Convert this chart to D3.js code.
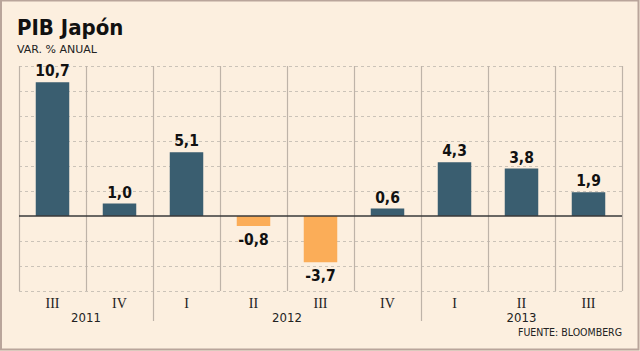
<!DOCTYPE html>
<html><head><meta charset="utf-8">
<script src="https://cdn.jsdelivr.net/npm/d3@7"></script>
<style>
html,body{margin:0;padding:0;background:#fcefdf;}
svg{display:block;}
</style></head>
<body>
<script>
const quarters = ["III","IV","I","II","III","IV","I","II","III"];
const values = [10.7, 1.0, 5.1, -0.8, -3.7, 0.6, 4.3, 3.8, 1.9];
const valueLabels = ["10,7","1,0","5,1","-0,8","-3,7","0,6","4,3","3,8","1,9"];
const years = [{label:"2011", from:0, to:2}, {label:"2012", from:2, to:6}, {label:"2013", from:6, to:9}];
const yTicks = [-6,-4,-2,2,4,6,8,10,12];

const W = 640, H = 351;
const svg = d3.select("body").append("svg").attr("width", W).attr("height", H);

svg.append("rect").attr("x",1).attr("y",0.5).attr("width",W-2.5).attr("height",H-2)
  .attr("fill","#fcefdf").attr("stroke","#b9a59b").attr("stroke-width",2);

const idx = d3.range(values.length);
const x = d3.scaleBand().domain(idx).range([19,622]).paddingInner(0.5).paddingOuter(0.25);
const step = x.step();
const y = d3.scaleLinear().domain([-6,12]).range([291,66]);

const left = 19;
// horizontal dashed gridlines
svg.append("g").selectAll("line").data(yTicks).join("line")
  .attr("x1",left).attr("x2",622).attr("y1",d=>y(d)+0.5).attr("y2",d=>y(d)+0.5)
  .attr("stroke","#cbc3b8").attr("stroke-width",1).attr("stroke-dasharray","3,3");

// vertical separators
const seps = d3.range(values.length+1);
const yearBreaks = years.map(d=>d.from).filter(d=>d>0);
svg.append("g").selectAll("line").data(seps).join("line")
  .attr("x1",i=>left+i*step+0.5).attr("x2",i=>left+i*step+0.5)
  .attr("y1",y(12)).attr("y2",i=> yearBreaks.includes(i) ? 321 : y(-6))
  .attr("stroke","#beb3a8").attr("stroke-width",1.2);

// bars
svg.append("g").selectAll("rect").data(idx).join("rect")
  .attr("x",i=>x(i)).attr("width",x.bandwidth())
  .attr("y",i=>y(Math.max(0,values[i])))
  .attr("height",i=>Math.abs(y(values[i])-y(0)))
  .attr("fill",i=>values[i]>=0 ? "#3a5e70" : "#fbad58");

// zero line
svg.append("line").attr("x1",left).attr("x2",622).attr("y1",y(0)).attr("y2",y(0))
  .attr("stroke","#3a3a3a").attr("stroke-width",1.5);

// value labels
svg.append("g").selectAll("text").data(idx).join("text")
  .attr("x",i=>x(i)+x.bandwidth()/2)
  .attr("y",i=> values[i]>=0 ? y(values[i])-6 : y(values[i])+19)
  .attr("text-anchor","middle")
  .attr("font-family","'DejaVu Sans Condensed','DejaVu Sans',sans-serif")
  .attr("font-stretch","condensed")
  .attr("font-weight","bold").attr("font-size",15.5).attr("fill","#111")
  .text(i=>valueLabels[i]);

// quarter labels
svg.append("g").selectAll("text").data(idx).join("text")
  .attr("x",i=>x(i)+x.bandwidth()/2).attr("y",308)
  .attr("text-anchor","middle")
  .attr("font-family","'Liberation Serif','DejaVu Serif',serif")
  .attr("font-size",14).attr("fill","#222")
  .text(i=>quarters[i]);

// year labels
svg.append("g").selectAll("text").data(years).join("text")
  .attr("x",d=>left+(d.from+d.to)/2*step).attr("y",322)
  .attr("text-anchor","middle")
  .attr("font-family","'DejaVu Sans Condensed','DejaVu Sans',sans-serif")
  .attr("font-stretch","condensed")
  .attr("font-size",13).attr("fill","#222")
  .text(d=>d.label);

// title
svg.append("text").attr("x",17).attr("y",35)
  .attr("font-family","'DejaVu Sans Condensed','DejaVu Sans',sans-serif")
  .attr("font-stretch","condensed")
  .attr("font-weight","bold").attr("font-size",22).attr("fill","#111")
  .text("PIB Japón");
svg.append("text").attr("x",17).attr("y",53)
  .attr("font-family","'DejaVu Sans',sans-serif")
  .attr("font-size",11).attr("fill","#222")
  .text("VAR. % ANUAL");

// source
svg.append("text").attr("x",622).attr("y",336).attr("text-anchor","end")
  .attr("font-family","'DejaVu Sans Condensed','DejaVu Sans',sans-serif")
  .attr("font-stretch","condensed")
  .attr("font-size",10.5).attr("fill","#222")
  .text("FUENTE: BLOOMBERG");
</script>
</body></html>
